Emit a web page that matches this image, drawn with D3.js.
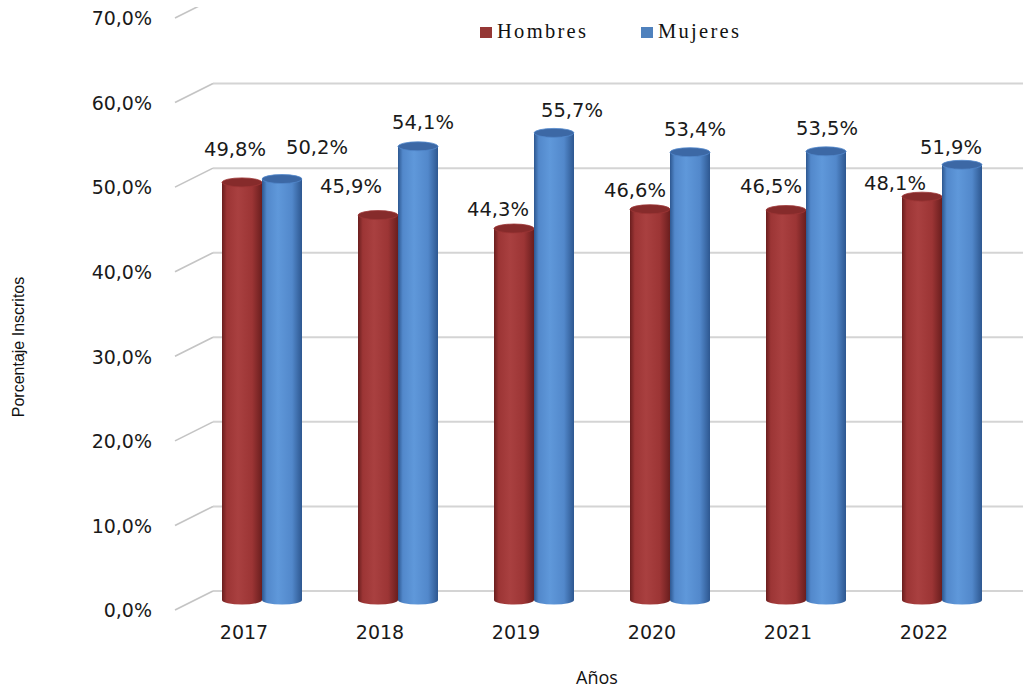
<!DOCTYPE html>
<html>
<head>
<meta charset="utf-8">
<script src="https://cdn.jsdelivr.net/npm/d3@7"></script>
<style>
  html, body { margin: 0; padding: 0; background: #fff; }
  svg { display: block; }
</style>
</head>
<body>
<svg id="chart" width="1023" height="690"></svg>
<script>
// ---- data ----
const years = ["2017", "2018", "2019", "2020", "2021", "2022"];
const seriesNames = ["Hombres", "Mujeres"];
const hombres = [49.8, 45.9, 44.3, 46.6, 46.5, 48.1];
const mujeres = [50.2, 54.1, 55.7, 53.4, 53.5, 51.9];
const yTicks = [0, 10, 20, 30, 40, 50, 60, 70];
const axisTitleY = "Porcentaje Inscritos";
const axisTitleX = "Años";

// ---- layout (label nudges, as placed in the original) ----
const labelDx = { Hombres: [-7, -27, -16, -15, -15, -27], Mujeres: [35, 5, 18, 5, 1, -11] };
const labelDy = { Hombres: [-33, -29, -20, -19, -24, -14], Mujeres: [-32, -24, -23, -23, -23, -18] };

const colors = {
  Hombres: { dark: "#6a1e1e", mid: "#9c3535", light: "#a94040", top: "#862b2b", legend: "#953735" },
  Mujeres: { dark: "#2d5790", mid: "#5288cb", light: "#5f98da", top: "#3c68a5", legend: "#4f81bd" }
};

const svg = d3.select("#chart");
const fmt = v => v.toFixed(1).replace(".", ",") + "%";

// scales
const yBar = d3.scaleLinear().domain([0, 70]).range([600, 13]);
const yBack = d3.scaleLinear().domain([0, 70]).range([591, -1]);
const yFront = d3.scaleLinear().domain([0, 70]).range([610, 18]);
const x0 = d3.scaleBand().domain(years).range([194, 1010]);
const x1 = d3.scaleBand().domain(seriesNames).range([28, 108]);
const xLab = d3.scaleBand().domain(years).range([176, 992]);

const defs = svg.append("defs");
defs.append("clipPath").attr("id", "plotclip")
  .append("rect").attr("x", 0).attr("y", 7).attr("width", 1023).attr("height", 683);

seriesNames.forEach(s => {
  const c = colors[s];
  const g = defs.append("linearGradient").attr("id", "grad-" + s)
    .attr("x1", "0%").attr("x2", "100%").attr("y1", "0%").attr("y2", "0%");
  g.append("stop").attr("offset", "0%").attr("stop-color", c.dark);
  g.append("stop").attr("offset", "12%").attr("stop-color", c.mid);
  g.append("stop").attr("offset", "40%").attr("stop-color", c.light);
  g.append("stop").attr("offset", "75%").attr("stop-color", c.mid);
  g.append("stop").attr("offset", "100%").attr("stop-color", c.dark);
});

// gridlines (back wall) + diagonal connectors
const grid = svg.append("g").attr("clip-path", "url(#plotclip)");
grid.selectAll("line.back").data(yTicks).join("line")
  .attr("class", "back")
  .attr("x1", 213).attr("x2", 1023)
  .attr("y1", d => yBack(d)).attr("y2", d => yBack(d))
  .attr("stroke", "#d4d4d4").attr("stroke-width", 2);
grid.selectAll("line.diag").data(yTicks).join("line")
  .attr("class", "diag")
  .attr("x1", 175).attr("x2", 213)
  .attr("y1", d => yFront(d)).attr("y2", d => yBack(d))
  .attr("stroke", "#c4c4c4").attr("stroke-width", 1.6);

// y axis labels
const yAxis = d3.axisLeft(yFront).tickValues(yTicks).tickSize(0).tickPadding(23)
  .tickFormat(d => fmt(d));
const gy = svg.append("g").attr("transform", "translate(175,0)").call(yAxis);
gy.select(".domain").remove();
gy.selectAll("text").attr("font-family", "DejaVu Sans, Verdana, sans-serif")
  .attr("font-size", "19px").attr("fill", "#1a1a1a").attr("dy", "0.36em");

// x axis labels
const xAxis = d3.axisBottom(xLab).tickSize(0).tickPadding(0);
const gx = svg.append("g").attr("transform", "translate(0,625)").call(xAxis);
gx.select(".domain").remove();
gx.selectAll("text").attr("font-family", "DejaVu Sans, Verdana, sans-serif")
  .attr("font-size", "19px").attr("fill", "#1a1a1a").attr("dy", "0.74em");

// cylinders
const ry = 4.5;
const w = x1.bandwidth();
const rows = [];
years.forEach((y, i) => {
  rows.push({ s: "Hombres", year: y, i, v: hombres[i] });
  rows.push({ s: "Mujeres", year: y, i, v: mujeres[i] });
});
const bars = svg.append("g").selectAll("g.bar").data(rows).join("g").attr("class", "bar");
bars.append("ellipse")
  .attr("cx", d => x0(d.year) + x1(d.s) + w / 2).attr("cy", yBar(0))
  .attr("rx", w / 2).attr("ry", ry)
  .attr("fill", d => `url(#grad-${d.s})`);
bars.append("rect")
  .attr("x", d => x0(d.year) + x1(d.s)).attr("width", w)
  .attr("y", d => yBar(d.v)).attr("height", d => yBar(0) - yBar(d.v))
  .attr("fill", d => `url(#grad-${d.s})`);
bars.append("ellipse")
  .attr("cx", d => x0(d.year) + x1(d.s) + w / 2).attr("cy", d => yBar(d.v))
  .attr("rx", w / 2).attr("ry", ry)
  .attr("fill", d => colors[d.s].top)
  .attr("stroke", d => colors[d.s].mid).attr("stroke-width", 0.8);

// data labels
svg.append("g").selectAll("text").data(rows).join("text")
  .attr("x", d => x0(d.year) + x1(d.s) + w / 2 + labelDx[d.s][d.i])
  .attr("y", d => yBar(d.v) + labelDy[d.s][d.i])
  .attr("dy", "0.36em")
  .attr("text-anchor", "middle")
  .attr("font-family", "DejaVu Sans, Verdana, sans-serif")
  .attr("font-size", "19.5px").attr("fill", "#1a1a1a")
  .text(d => fmt(d.v));

// legend
const legendX = { Hombres: 480, Mujeres: 641 };
const lg = svg.append("g").selectAll("g").data(seriesNames).join("g")
  .attr("transform", d => `translate(${legendX[d]},27)`);
lg.append("rect").attr("width", 12).attr("height", 11).attr("fill", d => colors[d].legend);
lg.append("text").attr("x", 17).attr("y", 11)
  .attr("font-family", "Liberation Serif, Times New Roman, serif")
  .attr("font-size", "20.5px").attr("letter-spacing", "2.3px").attr("fill", "#111")
  .text(d => d);

// axis titles
svg.append("text")
  .attr("transform", "translate(24,347) rotate(-90)")
  .attr("text-anchor", "middle")
  .attr("font-family", "Liberation Sans Narrow, Arial Narrow, sans-serif")
  .attr("font-size", "16px").attr("fill", "#111")
  .text(axisTitleY);
svg.append("text")
  .attr("x", 597).attr("y", 684)
  .attr("text-anchor", "middle")
  .attr("font-family", "Open Sans, sans-serif")
  .attr("font-size", "18px").attr("fill", "#111")
  .text(axisTitleX);
</script>
</body>
</html>
